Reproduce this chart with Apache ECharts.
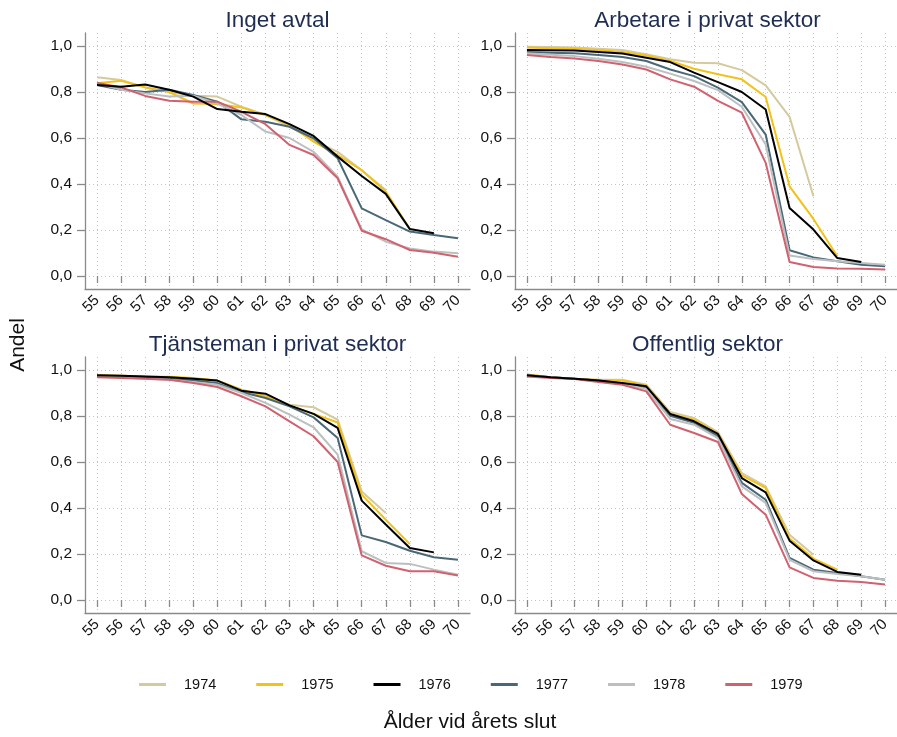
<!DOCTYPE html>
<html>
<head>
<meta charset="utf-8">
<script src="https://cdn.jsdelivr.net/npm/echarts@6/dist/echarts.min.js"></script>
<style>
html,body{margin:0;padding:0;background:#fff;}
#c{width:897px;height:737px;}
</style>
</head>
<body>
<div id="c"></div>
<script>
// ---- Data ----
const ages = ['55','56','57','58','59','60','61','62','63','64','65','66','67','68','69','70'];
const years = ['1974','1975','1976','1977','1978','1979'];
const yTicks = [0, 0.2, 0.4, 0.6, 0.8, 1.0];
const panelTitles = ['Inget avtal','Arbetare i privat sektor','Tjänsteman i privat sektor','Offentlig sektor'];

// Panel 1: Inget avtal
const p1_1974 = [0.864,0.852,0.820,0.800,0.784,0.780,0.736,0.700,0.650,0.590,0.540,0.460,0.374,null,null,null];
const p1_1975 = [0.838,0.849,0.820,0.800,0.750,0.748,0.733,0.700,0.657,0.584,0.526,0.460,0.367,0.204,null,null];
const p1_1976 = [0.830,0.823,0.833,0.810,0.780,0.726,0.714,0.704,0.660,0.609,0.519,0.435,0.357,0.204,0.186,null];
const p1_1977 = [0.830,0.810,0.800,0.810,0.787,0.758,0.681,0.671,0.649,0.599,0.512,0.294,0.243,0.193,0.178,0.164];
const p1_1978 = [0.838,0.810,0.794,0.780,0.784,0.750,0.700,0.628,0.600,0.540,0.432,0.203,0.149,0.120,0.106,0.099];
const p1_1979 = [0.840,0.820,0.783,0.762,0.758,0.758,0.714,0.660,0.570,0.526,0.425,0.197,0.160,0.113,0.101,0.084];

// Panel 2: Arbetare i privat sektor
const p2_1974 = [0.997,0.996,0.993,0.988,0.983,0.964,0.942,0.927,0.925,0.895,0.829,0.692,0.347,null,null,null];
const p2_1975 = [0.993,0.990,0.988,0.983,0.974,0.959,0.935,0.901,0.877,0.855,0.778,0.390,0.248,0.086,null,null];
const p2_1976 = [0.983,0.982,0.980,0.974,0.967,0.949,0.930,0.884,0.843,0.800,0.724,0.296,0.202,0.078,0.061,null];
const p2_1977 = [0.974,0.971,0.968,0.961,0.952,0.935,0.898,0.869,0.819,0.756,0.615,0.112,0.081,0.064,0.049,0.042];
const p2_1978 = [0.968,0.962,0.956,0.945,0.930,0.910,0.880,0.848,0.808,0.736,0.572,0.089,0.074,0.064,0.057,0.049];
const p2_1979 = [0.961,0.952,0.946,0.935,0.920,0.898,0.855,0.823,0.761,0.710,0.492,0.061,0.039,0.033,0.032,0.028];

// Panel 3: Tjänsteman i privat sektor
const p3_1974 = [0.977,0.975,0.971,0.968,0.962,0.954,0.914,0.886,0.849,0.838,0.784,0.472,0.378,null,null,null];
const p3_1975 = [0.977,0.975,0.972,0.971,0.965,0.954,0.914,0.886,0.845,0.809,0.772,0.458,0.349,0.243,null,null];
const p3_1976 = [0.977,0.975,0.972,0.968,0.962,0.954,0.910,0.897,0.846,0.809,0.748,0.432,0.328,0.226,0.207,null];
const p3_1977 = [0.972,0.971,0.968,0.962,0.954,0.943,0.904,0.878,0.842,0.794,0.704,0.281,0.252,0.214,0.186,0.175];
const p3_1978 = [0.971,0.968,0.962,0.958,0.948,0.936,0.900,0.857,0.806,0.751,0.632,0.212,0.161,0.157,0.132,0.110];
const p3_1979 = [0.968,0.965,0.962,0.958,0.943,0.926,0.886,0.842,0.777,0.712,0.600,0.194,0.149,0.125,0.125,0.107];

// Panel 4: Offentlig sektor
const p4_1974 = [0.980,0.968,0.962,0.958,0.958,0.936,0.817,0.791,0.730,0.552,0.494,0.284,0.197,null,null,null];
const p4_1975 = [0.980,0.968,0.962,0.957,0.954,0.932,0.809,0.784,0.723,0.542,0.487,0.267,0.180,0.132,null,null];
const p4_1976 = [0.977,0.968,0.962,0.954,0.943,0.929,0.809,0.777,0.722,0.530,0.468,0.258,0.172,0.122,0.110,null];
const p4_1977 = [0.977,0.968,0.962,0.954,0.941,0.922,0.801,0.770,0.712,0.509,0.436,0.183,0.132,0.117,0.103,0.088];
const p4_1978 = [0.977,0.968,0.962,0.951,0.939,0.917,0.787,0.762,0.704,0.494,0.422,0.175,0.125,0.113,0.103,0.088];
const p4_1979 = [0.972,0.965,0.961,0.948,0.936,0.907,0.762,0.726,0.687,0.461,0.371,0.142,0.096,0.084,0.078,0.067];

const panelData = [
  [p1_1974,p1_1975,p1_1976,p1_1977,p1_1978,p1_1979],
  [p2_1974,p2_1975,p2_1976,p2_1977,p2_1978,p2_1979],
  [p3_1974,p3_1975,p3_1976,p3_1977,p3_1978,p3_1979],
  [p4_1974,p4_1975,p4_1976,p4_1977,p4_1978,p4_1979]
];

// ---- Styles ----
const colors = {'1974':'#d5ca9e','1975':'#f2c218','1976':'#000000','1977':'#496877','1978':'#bcbfc0','1979':'#d0626f'};
const drawOrder = [0,1,3,4,5,2];
const FONT = '"Liberation Sans", Arial, sans-serif';
const axisGrey = '#8a8a8a';
const gridGrey = '#c4c4c4';

const panelBoxes = [
  {left:85, top:33},
  {left:515, top:33},
  {left:85, top:357},
  {left:515, top:357}
];
const W = 385, H = 256, PAD = 13;

const grids = [], xAxes = [], yAxes = [], series = [], titles = [];
panelBoxes.forEach((b, p) => {
  const outer = grids.length;
  grids.push({left:b.left, top:b.top, width:W, height:H, containLabel:false});
  grids.push({left:b.left, top:b.top + PAD, width:W, height:H - 2*PAD, containLabel:false});
  const inner = outer + 1;
  // outer frame axes (axis lines + vertical grid)
  xAxes.push({type:'category', gridIndex:outer, data:ages, boundaryGap:true,
    axisLine:{show:true, lineStyle:{color:axisGrey, width:1.3}},
    axisTick:{show:false}, axisLabel:{show:false},
    splitLine:{show:true, alignWithLabel:true, lineStyle:{color:gridGrey, type:[1,3], width:1}}});
  yAxes.push({type:'value', gridIndex:outer, min:0, max:1,
    axisLine:{show:true, lineStyle:{color:axisGrey, width:1.3}},
    axisTick:{show:false}, axisLabel:{show:false}, splitLine:{show:false}});
  // inner data axes
  xAxes.push({type:'category', gridIndex:inner, data:ages, boundaryGap:true, offset:PAD,
    axisLine:{show:false},
    axisTick:{show:true, alignWithLabel:true, length:7, lineStyle:{color:axisGrey, width:1.3}},
    axisLabel:{show:true, rotate:45, interval:0, margin:9, fontSize:15, color:'#111', fontFamily:FONT},
    splitLine:{show:false}});
  yAxes.push({type:'value', gridIndex:inner, min:0, max:1, interval:0.2,
    axisLine:{show:false},
    axisTick:{show:true, length:8, lineStyle:{color:axisGrey, width:1.3}},
    axisLabel:{show:true, margin:13, fontSize:15.5, color:'#111', fontFamily:FONT,
      formatter: v => v.toFixed(1).replace('.', ',')},
    splitLine:{show:true, lineStyle:{color:gridGrey, type:[1,3], width:1}}});
  drawOrder.forEach(k => {
    series.push({type:'line', name:years[k], xAxisIndex:inner, yAxisIndex:inner,
      data:panelData[p][k], showSymbol:false, symbol:'none', connectNulls:false,
      lineStyle:{color:colors[years[k]], width:2}, itemStyle:{color:colors[years[k]]},
      z: 2 + drawOrder.indexOf(k), animation:false});
  });
  titles.push({text:panelTitles[p], left:b.left + W/2 - 5, top:b.top - 29, textAlign:'center',
    textStyle:{fontSize:22.5, fontWeight:'normal', color:'#1f2d52', fontFamily:FONT}});
});

const chart = echarts.init(document.getElementById('c'), null, {renderer:'canvas'});
chart.setOption({
  animation:false,
  backgroundColor:'#ffffff',
  title:titles,
  grid:grids,
  xAxis:xAxes,
  yAxis:yAxes,
  series:series,
  legend:{data:years, left:134, top:672, icon:'rect', itemWidth:27, itemHeight:3, itemGap:40,
    textStyle:{fontSize:14.5, color:'#111', fontFamily:FONT, padding:[0,0,0,13]}},
  graphic:[
    {type:'text', x:18, y:345, rotation:Math.PI/2,
      style:{text:'Andel', textAlign:'center', textVerticalAlign:'middle', fill:'#111', font:'21px "Liberation Sans", Arial, sans-serif'}},
    {type:'text', x:470, y:722,
      style:{text:'Ålder vid årets slut', textAlign:'center', textVerticalAlign:'middle', fill:'#111', font:'21px "Liberation Sans", Arial, sans-serif'}}
  ]
});
</script>
</body>
</html>
